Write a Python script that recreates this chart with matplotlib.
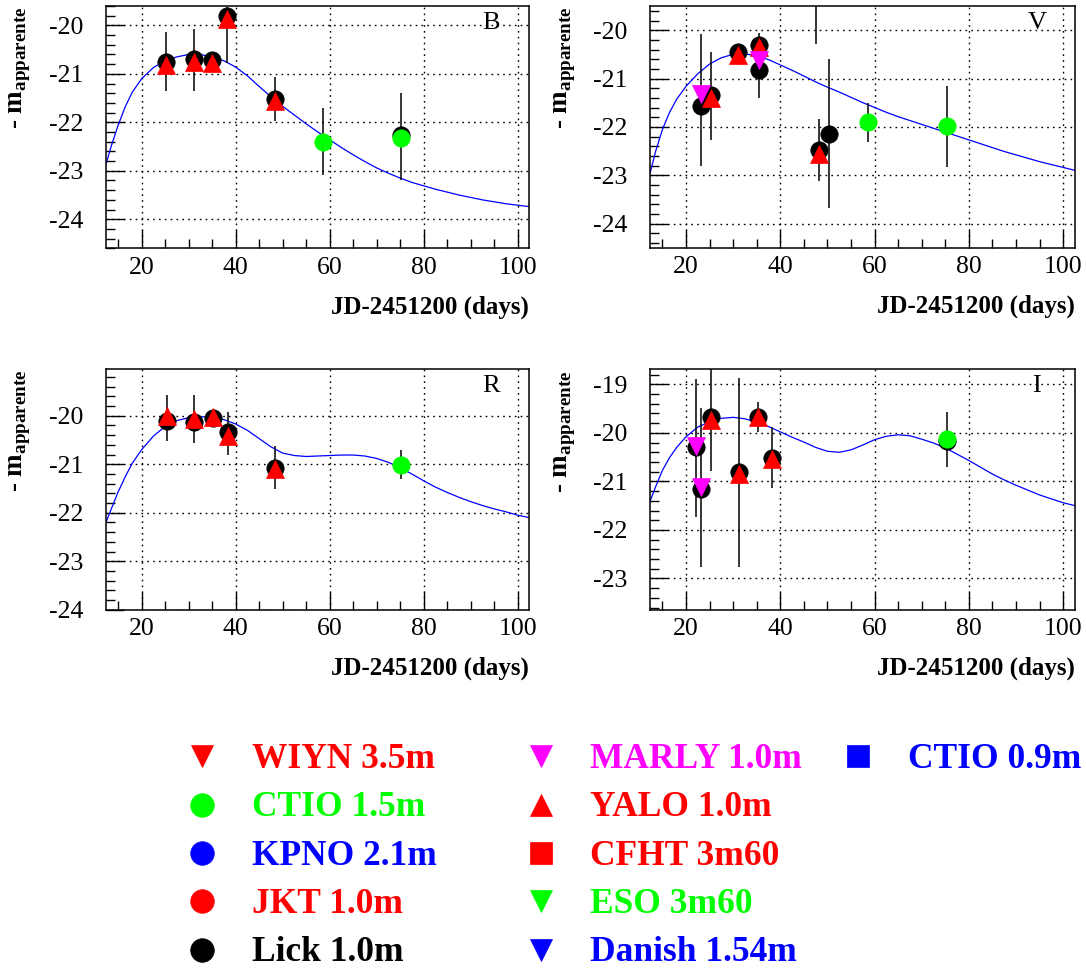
import matplotlib
matplotlib.use("Agg")
import matplotlib.pyplot as plt
from matplotlib.ticker import MultipleLocator

# ---- fitted light curves ----
fit_days = [12.4, 13.5, 15, 16.5, 18, 20,
            22.5, 25, 27.5, 30, 32.5, 35, 37.5, 40,
            42.5, 45, 47.5, 50, 52.5, 55, 57.5, 60,
            62.5, 65, 67.5, 70, 72.5, 75, 77.5, 80,
            82.5, 85, 87.5, 90, 92.5, 95, 97.5, 100, 102.5]
B_fit = [-22.87, -22.5, -22.06, -21.68, -21.38, -21.1,
         -20.87, -20.73, -20.65, -20.6, -20.6, -20.65, -20.73, -20.86,
         -21.04, -21.26, -21.47, -21.67, -21.85, -22.03, -22.2, -22.36,
         -22.52, -22.67, -22.81, -22.94, -23.05, -23.15, -23.24, -23.31,
         -23.38, -23.44, -23.5, -23.55, -23.6, -23.64, -23.68, -23.71, -23.74]
V_fit = [-22.95, -22.52, -22.05, -21.7, -21.43, -21.16,
         -20.9, -20.7, -20.57, -20.5, -20.49, -20.53, -20.61, -20.72,
         -20.83, -20.95, -21.07, -21.18, -21.28, -21.39, -21.5, -21.6,
         -21.7, -21.79, -21.87, -21.95, -22.03, -22.11, -22.19, -22.27,
         -22.35, -22.43, -22.51, -22.58, -22.65, -22.72, -22.78, -22.84, -22.9]
R_fit = [-22.2, -21.93, -21.57, -21.26, -20.98, -20.7,
         -20.42, -20.22, -20.1, -20.04, -20.02, -20.03, -20.08, -20.17,
         -20.3, -20.47, -20.64, -20.77, -20.82, -20.84, -20.83, -20.82,
         -20.81, -20.81, -20.83, -20.88, -20.96, -21.07, -21.2, -21.34,
         -21.47, -21.58, -21.68, -21.77, -21.85, -21.92, -21.98, -22.05, -22.1]
I_fit = [-21.4, -21.12, -20.77, -20.51, -20.3, -20.08,
         -19.88, -19.77, -19.7, -19.68, -19.71, -19.78, -19.87, -19.98,
         -20.09, -20.19, -20.3, -20.38, -20.4, -20.35, -20.25, -20.14,
         -20.07, -20.04, -20.06, -20.13, -20.21, -20.31, -20.44, -20.57,
         -20.71, -20.85, -20.97, -21.08, -21.18, -21.28, -21.36, -21.44, -21.5]

# ---- B band ----
B_lick_day = [25.2, 31.2, 35.0, 38.2, 48.3, 75.3]
B_lick_mag = [-20.75, -20.70, -20.71, -19.80, -21.52, -22.26]
B_yalo_day = [25.2, 31.2, 35.0, 38.2, 48.3]
B_yalo_mag = [-20.82, -20.76, -20.78, -19.86, -21.57]
B_ctio_day = [58.5, 75.3]
B_ctio_mag = [-22.40, -22.33]
B_err_day = [25.2, 31.2, 38.2, 48.3, 58.5, 75.3]
B_err_lo = [-21.36, -21.36, -20.78, -21.97, -23.09, -23.19]
B_err_hi = [-20.14, -20.08, -19.62, -21.07, -21.71, -21.39]

# ---- V band ----
V_lick_day = [23.2, 25.3, 31.1, 35.4, 35.4, 48.2, 50.4]
V_lick_mag = [-21.57, -21.34, -20.46, -20.31, -20.82, -22.48, -22.14]
V_yalo_day = [25.3, 31.1, 35.4, 48.2]
V_yalo_mag = [-21.41, -20.52, -20.34, -22.56]
V_marly_day = [23.2, 35.4]
V_marly_mag = [-21.33, -20.62]
V_ctio_day = [58.5, 75.3]
V_ctio_mag = [-21.91, -21.99]
V_err_day = [23.2, 25.3, 35.4, 47.5, 48.2, 50.4, 58.5, 75.3]
V_err_lo = [-22.82, -22.27, -21.41, -20.28, -23.13, -23.68, -22.32, -22.83]
V_err_hi = [-20.08, -20.46, -20.06, -19.00, -21.84, -20.60, -21.50, -21.15]

# ---- R band ----
R_lick_day = [25.3, 31.2, 35.2, 38.3, 48.3]
R_lick_mag = [-20.10, -20.12, -20.05, -20.34, -21.07]
R_yalo_day = [25.3, 31.2, 35.2, 38.3, 48.3]
R_yalo_mag = [-20.01, -20.06, -20.02, -20.41, -21.10]
R_ctio_day = [75.3]
R_ctio_mag = [-21.01]
R_err_day = [25.3, 31.2, 38.3, 48.3, 75.3]
R_err_lo = [-20.52, -20.57, -20.81, -21.50, -21.30]
R_err_hi = [-19.57, -19.57, -19.93, -20.62, -20.71]

# ---- I band ----
I_lick_day = [22.2, 23.2, 25.3, 31.2, 35.2, 38.2, 75.3]
I_lick_mag = [-20.30, -21.16, -19.68, -20.80, -19.67, -20.51, -20.17]
I_marly_day = [22.2, 23.2]
I_marly_mag = [-20.27, -21.12]
I_yalo_day = [25.3, 31.2, 35.2, 38.2]
I_yalo_mag = [-19.74, -20.84, -19.68, -20.54]
I_ctio_day = [75.3]
I_ctio_mag = [-20.12]
I_err_day = [22.2, 23.2, 25.3, 31.2, 35.2, 38.2, 75.3]
I_err_lo = [-21.73, -22.76, -20.78, -22.76, -19.98, -21.14, -20.70]
I_err_hi = [-18.90, -19.49, -18.50, -18.86, -19.36, -19.87, -19.57]

# ---- legend ----
leg_labels = ["WIYN 3.5m", "CTIO 1.5m", "KPNO 2.1m", "JKT 1.0m", "Lick 1.0m",
              "MARLY 1.0m", "YALO 1.0m", "CFHT 3m60", "ESO 3m60", "Danish 1.54m",
              "CTIO 0.9m"]
leg_colors = ["#ff0000", "#00ff00", "#0000ff", "#ff0000", "#000000",
              "#ff00ff", "#ff0000", "#ff0000", "#00ff00", "#0000ff",
              "#0000ff"]
leg_markers = ["v", "o", "o", "o", "o", "v", "^", "s", "v", "v", "s"]

plt.rcParams.update({
    "font.family": "Liberation Serif",
    "mathtext.fontset": "custom",
    "mathtext.rm": "Liberation Serif",
    "mathtext.bf": "Liberation Serif:bold",
    "axes.unicode_minus": False,
})

W, H = 1086, 971
fig = plt.figure(figsize=(W / 100, H / 100), dpi=100)

RED, GREEN, MAG = "#ff0000", "#00ff00", "#ff00ff"


def px_axes(left, top, right, bottom):
    return fig.add_axes([left / W, 1 - bottom / H, (right - left) / W, (bottom - top) / H])


def panel(box, ylim, letter, fit, err, series):
    left, top, right, bottom = box
    ax = px_axes(*box)
    ax.set_xlim(12.35, 102.5)
    ax.set_ylim(*ylim)
    ax.xaxis.set_major_locator(MultipleLocator(20))
    ax.xaxis.set_minor_locator(MultipleLocator(5))
    ax.yaxis.set_major_locator(MultipleLocator(1))
    ax.yaxis.set_minor_locator(MultipleLocator(0.2))
    ax.tick_params(which="both", direction="in", top=False, right=False,
                   width=1.0, labelsize=18.5)
    ax.tick_params(which="major", length=13)
    ax.tick_params(which="minor", length=6.5)
    ax.tick_params(axis="x", pad=6)
    ax.tick_params(axis="y", pad=16)
    for s in ax.spines.values():
        s.set_linewidth(1.1)
    ax.grid(which="major", color="k", ls=(0, (1.2, 3)), lw=1.0)
    ax.set_axisbelow(True)

    ax.vlines(err[0], err[1], err[2], color="k", lw=1.1, zorder=3)
    ax.plot(fit_days, fit, color="#0000ff", lw=0.9, zorder=2.5)
    for day, mag, mk, col in series:
        ax.plot(day, mag, ls="none", marker=mk, ms=12.5, mfc=col, mec=col,
                mew=0.5, zorder=4)

    ax.text(0.91, 0.93, letter, transform=ax.transAxes, ha="center",
            va="center", fontsize=19)
    fig.text(right / W, 1 - (bottom + 65) / H, "JD-2451200 (days)",
             ha="right", va="baseline", fontsize=18, fontweight="bold")
    fig.text((left - 85) / W, 1 - (top + 1) / H,
             r"- m$_{\mathbf{apparente}}$", rotation=90, ha="center",
             va="top", fontsize=19.5, fontweight="bold")
    return ax


panel((105.7, 6, 529.3, 248.3), (-24.6, -19.6), "B", B_fit,
      (B_err_day, B_err_lo, B_err_hi),
      [(B_lick_day, B_lick_mag, "o", "k"),
       (B_ctio_day, B_ctio_mag, "o", GREEN),
       (B_yalo_day, B_yalo_mag, "^", RED)])

panel((650, 6, 1075, 247.7), (-24.5, -19.5), "V", V_fit,
      (V_err_day, V_err_lo, V_err_hi),
      [(V_lick_day, V_lick_mag, "o", "k"),
       (V_ctio_day, V_ctio_mag, "o", GREEN),
       (V_yalo_day, V_yalo_mag, "^", RED),
       (V_marly_day, V_marly_mag, "v", MAG)])

panel((105.7, 368.7, 529.3, 610), (-24.005, -19.03), "R", R_fit,
      (R_err_day, R_err_lo, R_err_hi),
      [(R_lick_day, R_lick_mag, "o", "k"),
       (R_ctio_day, R_ctio_mag, "o", GREEN),
       (R_yalo_day, R_yalo_mag, "^", RED)])

panel((650, 369.3, 1075, 610), (-23.65, -18.69), "I", I_fit,
      (I_err_day, I_err_lo, I_err_hi),
      [(I_lick_day, I_lick_mag, "o", "k"),
       (I_ctio_day, I_ctio_mag, "o", GREEN),
       (I_yalo_day, I_yalo_mag, "^", RED),
       (I_marly_day, I_marly_mag, "v", MAG)])

# legend drawn in pixel coordinates
leg = fig.add_axes([0, 0, 1, 1])
leg.set_xlim(0, W)
leg.set_ylim(H, 0)
leg.axis("off")
mark_x = [202, 541, 858]
text_x = [252, 590, 908]
for i, (lab, col, mk) in enumerate(zip(leg_labels, leg_colors, leg_markers)):
    c, r = i // 5, i % 5
    base = 768 + r * 48.3
    ms = 17 if mk == "o" else 16.5 if mk == "s" else 16
    leg.plot([mark_x[c]], [base - 11.5], ls="none", marker=mk, ms=ms,
             mfc=col, mec=col, mew=0.5)
    leg.text(text_x[c], base, lab, color=col, fontsize=25.5,
             fontweight="bold", ha="left", va="baseline")

fig.savefig("out.png", dpi=100)
